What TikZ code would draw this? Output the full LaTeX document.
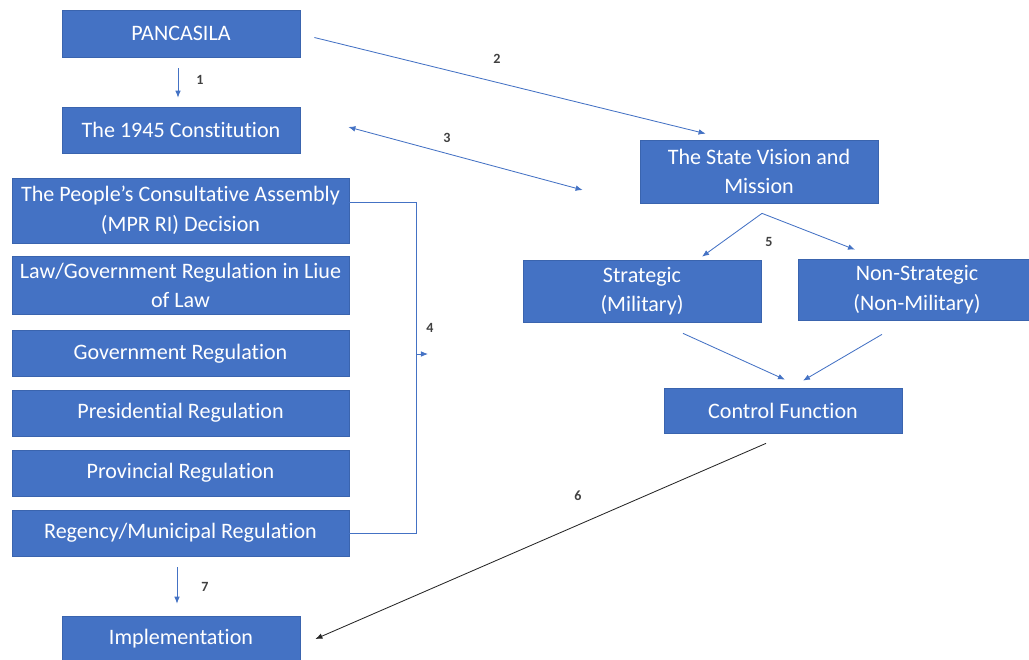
\documentclass[tikz,border=0pt]{standalone}
\usepackage{fontspec}
\setmainfont{Carlito}[Ligatures=NoCommon]
\usetikzlibrary{arrows.meta,calc}
\definecolor{boxblue}{HTML}{4472C4}
\definecolor{boxedge}{HTML}{3A64AE}
\begin{document}
\begin{tikzpicture}[x=0.025cm,y=-0.025cm,
        box/.style={draw=boxedge,line width=0.5pt,fill=boxblue,text=white,align=center,inner sep=0pt,
            font=\fontsize{15.7}{21}\selectfont},
        narrow/.style={box,minimum width=5.95cm},
        wide/.style={box,minimum width=8.425cm},
        link/.style={boxblue,line width=0.6pt,-{Latex[length=5pt,width=4pt]}},
        num/.style={font=\fontsize{10}{12}\selectfont\bfseries,text=black!75}]
        \useasboundingbox (0,0) rectangle (1029,659);
        \node[narrow,minimum height=1.175cm] (panc) at (181,33.5) {PANCASILA};
        \node[narrow,minimum height=1.15cm] (const) at (181,130) {The 1945 Constitution};
        \node[wide,minimum height=1.625cm] (mpr) at (180.5,210.5) {The People’s Consultative Assembly\\(MPR RI) Decision};
        \node[wide,minimum height=1.45cm] (law) at (180.5,285.5) {Law/Government Regulation in Liue\\of Law};
        \foreach \n/\y/\t in {gov/353.5/Government Regulation,pres/413/Presidential Regulation,
                prov/473/Provincial Regulation,reg/533/{Regency/Municipal Regulation}}
        \node[wide,minimum height=1.15cm] (\n) at (180.5,\y) {\t};
        \node[narrow,minimum height=1.15cm] (impl) at (181,639) {Implementation};
        \node[narrow,minimum height=1.575cm] (vis) at (759,171.5) {The State Vision and\\Mission};
        \node[narrow,minimum height=1.55cm] (strat) at (642,291) {Strategic\\(Military)};
        \node[narrow,minimum height=1.525cm] (nstr) at (917,289.5) {Non-Strategic\\(Non-Military)};
        \node[narrow,minimum height=1.125cm] (ctrl) at (783,410.5) {Control Function};
        \draw[link] ($(panc.south)+(-3,11)$) -- ($(const.north)+(-3,-9)$);
        \node[num] (n1) at (200,80) {1};
        \draw[link] ($(panc.east)+(14,4)$) -- ($(vis.north west)+(66,-6)$);
        \node[num] (n2) at (497,59) {2};
        \draw[link,{Latex[length=5pt,width=4pt]}-{Latex[length=5pt,width=4pt]}] ($(const.east)+(48,-3)$) -- ($(vis.west)+(-57,18.5)$);
        \node[num] (n3) at (447,138) {3};
        \draw[boxblue,line width=0.6pt] (mpr.east |- 0,202) -- (416,202) |- (reg.east);
        \coordinate (brk) at (416,354);
        \draw[link] (brk) -- ++(12,0);
        \node[num] (n4) at (430,328) {4};
        \coordinate (fork) at ($(vis.south)+(3,10)$);
        \draw[link] (fork) -- ($(strat.north)+(60,-3)$);
        \draw[link] (fork) -- ($(nstr.north)+(-62,-9)$);
        \node[num] (n5) at (769,242) {5};
        \draw[link] ($(strat.south)+(41,11)$) -- ($(ctrl.north)+(2,-8)$);
        \draw[link] ($(nstr.south)+(-35,14)$) -- ($(ctrl.north)+(20,-7)$);
        \draw[black!85,line width=0.6pt,-{Latex[length=5pt,width=4pt]}] ($(ctrl.south)+(-17,10)$) -- ($(impl.east)+(15,0)$);
        \node[num] (n6) at (578,496) {6};
        \draw[link] ($(reg.south)+(-3.5,11)$) -- ($(impl.north)+(-4,-12)$);
        \node[num] (n7) at (205,587) {7};
    \end{tikzpicture}
\end{document}
